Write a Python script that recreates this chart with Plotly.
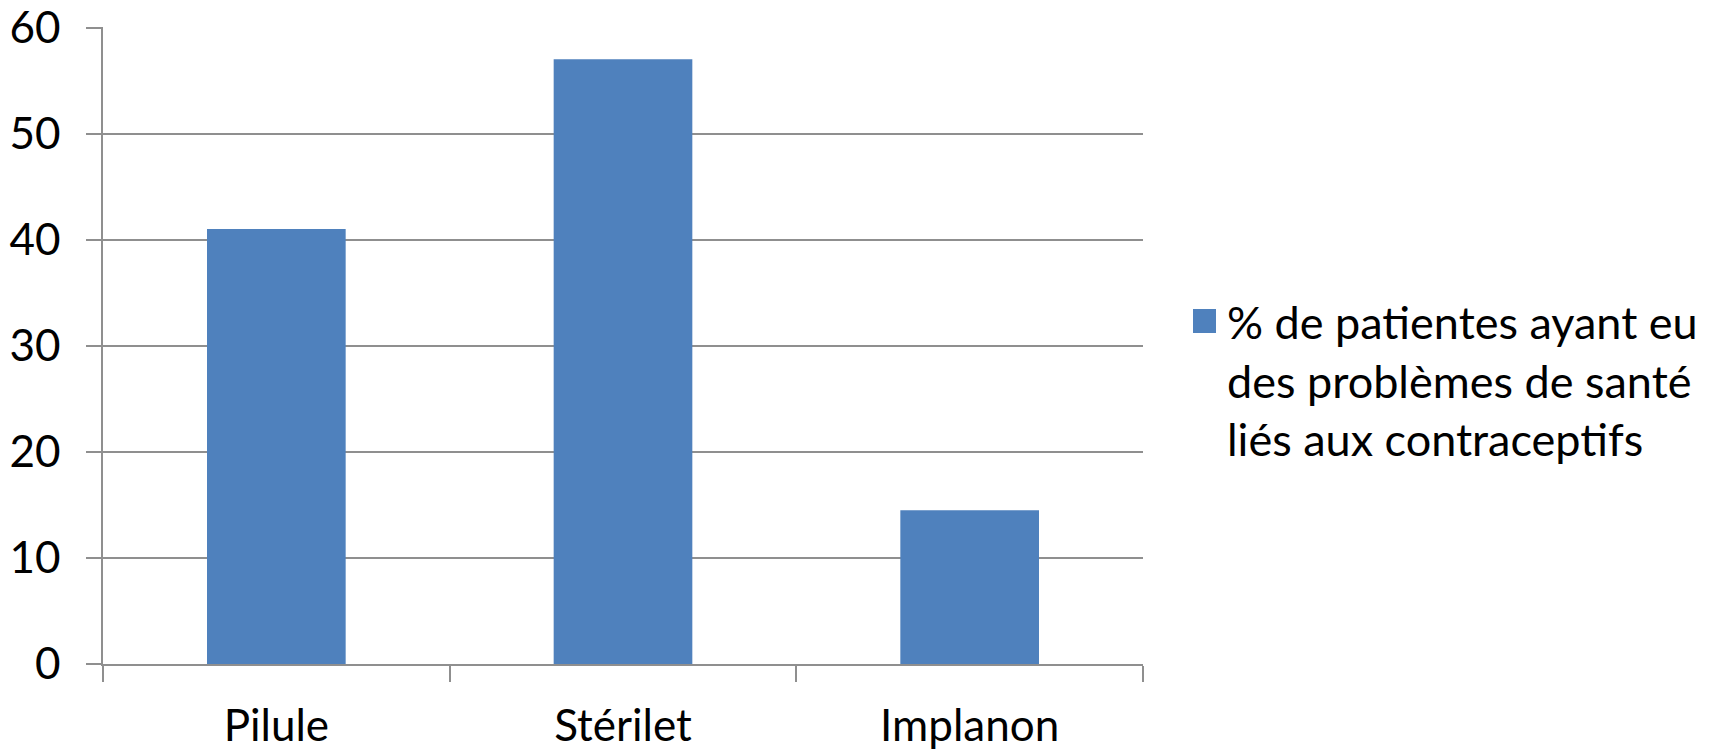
import plotly.graph_objects as go

categories = ["Pilule", "Stérilet", "Implanon"]
values = [41, 57, 14.5]
series_name = "% de patientes ayant eu<br>des problèmes de santé<br>liés aux contraceptifs"
y_ticks = [0, 10, 20, 30, 40, 50, 60]

FONT = "Lato"
GRID = "#8f8f8f"
BAR = "#4F81BD"

fig = go.Figure()
fig.add_trace(go.Bar(
    x=categories, y=values, name=series_name,
    marker=dict(color=BAR, line=dict(width=0)),
    showlegend=False,
))

# legend drawn manually (larger swatch than plotly's fixed legend icon)
fig.add_shape(type="rect", xref="paper", yref="paper",
              x0=(1193 - 103) / 1040, x1=(1216 - 103) / 1040,
              y0=(664 - 333) / 637, y1=(664 - 309) / 637,
              fillcolor=BAR, line=dict(width=0))
fig.add_annotation(xref="paper", yref="paper",
                   x=(1225 - 103) / 1040, y=(664 - 293) / 637,
                   xanchor="left", yanchor="top", align="left",
                   showarrow=False, text=series_name,
                   font=dict(family=FONT, size=45, color="black"))

fig.update_layout(
    width=1713, height=750,
    margin=dict(l=103, r=570, t=27, b=86, pad=0),
    paper_bgcolor="white", plot_bgcolor="white",
    font=dict(family=FONT, size=44, color="black"),
    bargap=0.6,
    showlegend=False,
)
fig.update_xaxes(
    type="category", showline=True, linecolor=GRID, linewidth=1.5,
    showgrid=False, ticks="outside", tickson="boundaries", ticklen=16,
    tickcolor=GRID, tickwidth=1.5, ticklabelstandoff=22, automargin=False,
    tickfont=dict(family=FONT, size=44, color="black"),
)
fig.update_yaxes(
    range=[0, 60.05], tickvals=y_ticks, showline=True, linecolor=GRID, linewidth=1.5,
    showgrid=True, gridcolor=GRID, gridwidth=1.5, zeroline=False,
    ticks="outside", ticklen=15, tickcolor=GRID, tickwidth=1.5,
    ticklabelstandoff=17, automargin=False, ticklabeloverflow="allow",
    tickfont=dict(family=FONT, size=44, color="black"),
)

fig.write_html("out.html", config={"displayModeBar": False},
               post_script="document.body.style.margin='0';document.body.style.overflow='hidden';")
